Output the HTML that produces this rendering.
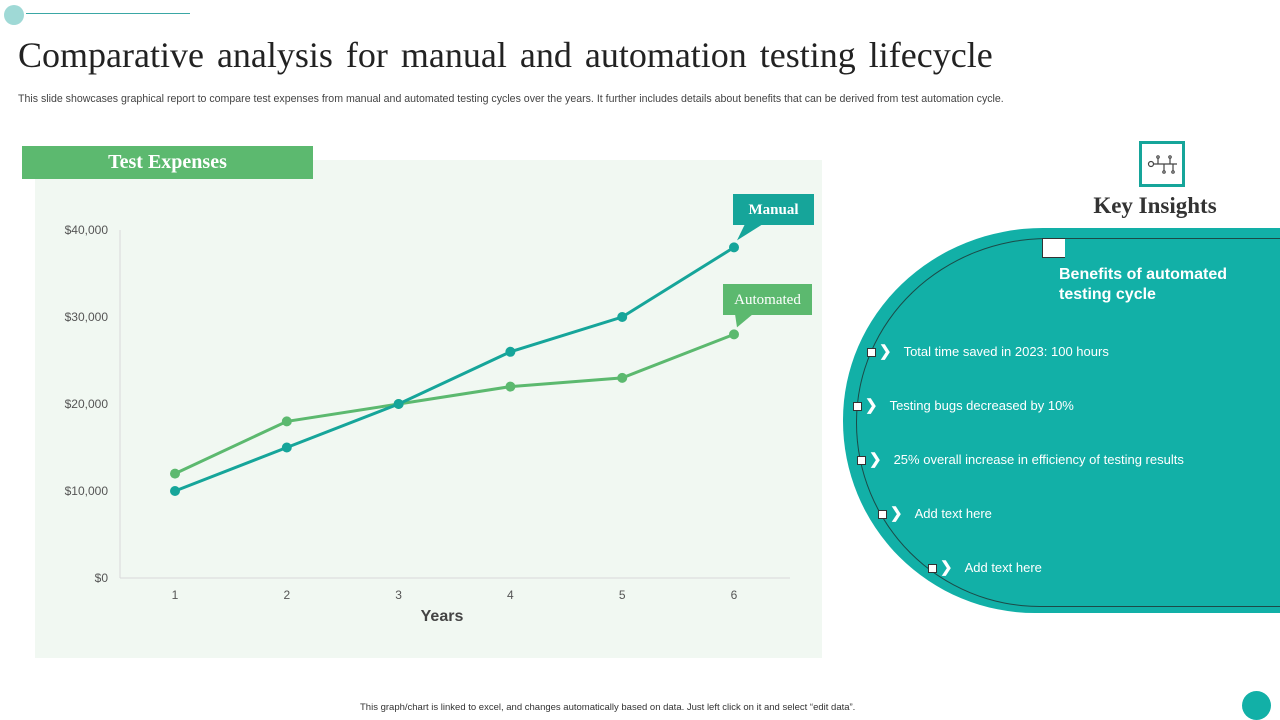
<!DOCTYPE html>
<html><head><meta charset="utf-8"><style>
body{margin:0;width:1280px;height:720px;position:relative;background:#fff;font-family:"Liberation Sans",sans-serif;overflow:hidden}
.abs{position:absolute}
</style></head><body>
<div class="abs" style="left:4px;top:5px;width:20px;height:20px;border-radius:50%;background:#9fd9d6"></div>
<div class="abs" style="left:26px;top:13px;width:164px;height:1px;background:#3aa7a5"></div>
<div class="abs" style="left:18px;top:34px;font-family:'Liberation Serif',serif;font-size:36px;color:#222;word-spacing:4px">Comparative analysis for manual and automation testing lifecycle</div>
<div class="abs" style="left:18px;top:93px;font-size:10.6px;color:#444;white-space:nowrap">This slide showcases graphical report to compare test expenses from manual and automated testing cycles over the years. It further includes details about benefits that can be derived from test automation cycle.</div>

<div class="abs" style="left:35px;top:160px;width:787px;height:498px;background:#f1f8f2"></div>
<div class="abs" style="left:22px;top:146px;width:291px;height:33px;background:#5cb96f;color:#fff;font-family:'Liberation Serif',serif;font-weight:bold;font-size:20px;line-height:33px;text-align:center">Test Expenses</div>

<svg class="abs" style="left:0;top:0" width="1280" height="720" id="chart"></svg>

<div class="abs" style="left:1139px;top:141px;width:40px;height:40px;border:3px solid #16a59a;background:#fff">
<svg width="40" height="40"><g stroke="#444" fill="none" stroke-width="1.2"><circle cx="9" cy="20" r="2.5"/><line x1="11" y1="20" x2="35" y2="20"/><line x1="16" y1="20" x2="16" y2="14"/><line x1="28" y1="20" x2="28" y2="14"/><line x1="22" y1="20" x2="22" y2="27"/><line x1="31" y1="20" x2="31" y2="27"/><circle cx="16" cy="13" r="1.2"/><circle cx="28" cy="13" r="1.2"/><circle cx="22" cy="28" r="1.2"/><circle cx="31" cy="28" r="1.2"/></g></svg></div>
<div class="abs" style="left:1060px;top:193px;width:190px;text-align:center;font-family:'Liberation Serif',serif;font-weight:bold;font-size:23px;color:#333">Key Insights</div>

<div class="abs" style="left:843px;top:228px;width:437px;height:385px;background:#12b0a7;border-radius:200px 0 0 192px/192px 0 0 192px"></div>
<div class="abs" style="left:856px;top:238px;width:440px;height:367px;border:1px solid #1c4a47;border-right:none;border-radius:192px 0 0 184px/184px 0 0 184px"></div>
<div class="abs" style="left:1042px;top:238px;width:22px;height:18px;background:#fff;border:1px solid #333;border-right:none"></div>
<div class="abs" style="left:1059px;top:265px;color:#fff;font-weight:bold;font-size:16px;line-height:20px">Benefits of automated<br>testing cycle</div>

<div id="bullets"></div>

<div class="abs" style="left:360px;top:702px;font-size:9.5px;color:#333">This graph/chart is linked to excel, and changes automatically based on data. Just left click on it and select “edit data”.</div>
<div class="abs" style="left:1242px;top:691px;width:29px;height:29px;border-radius:50%;background:#12b0a7"></div>

<script>
const categories=[1,2,3,4,5,6];
const manualValues=[10000,15000,20000,26000,30000,38000];
const automatedValues=[12000,18000,20000,22000,23000,28000];
const yTicks=[0,10000,20000,30000,40000];
const yTickLabels=["$0","$10,000","$20,000","$30,000","$40,000"];
const bulletTexts=["Total time saved in 2023: 100 hours","Testing bugs decreased by 10%","25% overall increase in efficiency of testing results","Add text here","Add text here"];

const svg=document.getElementById('chart');const NS='http://www.w3.org/2000/svg';
function xs(c){return 175+(c-1)*111.8;}
function ys(v){return 578-v*348/40000;}
function mk(t,a,p){const e=document.createElementNS(NS,t);for(const k in a)e.setAttribute(k,a[k]);(p||svg).appendChild(e);return e;}
let e;
e=mk('line',{x1:120,y1:230,x2:120,y2:578,stroke:'#d9d9d9'});


e=mk('line',{x1:120,y1:578,x2:790,y2:578,stroke:'#d9d9d9'});


yTicks.forEach((v,i)=>{e=mk('text',{x:108,y:ys(v)+4,'text-anchor':'end','font-size':12,fill:'#555'});e.textContent=yTickLabels[i];

});
categories.forEach(c=>{e=mk('text',{x:xs(c),y:599,'text-anchor':'middle','font-size':12,fill:'#555'});e.textContent=c;

});
e=mk('text',{x:442,y:621,'text-anchor':'middle','font-size':16,'font-weight':'bold',fill:'#444'});e.textContent='Years';


function series(vals,color,name){
 const pts=vals.map((v,i)=>xs(categories[i])+','+ys(v)).join(' ');
 e=mk('polyline',{points:pts,fill:'none',stroke:color,'stroke-width':3});
 
 
 vals.forEach((v,i)=>{e=mk('circle',{cx:xs(categories[i]),cy:ys(v),r:5,fill:color});
 
 });
}
series(automatedValues,'#5cb96f','automated');
series(manualValues,'#16a59a','manual');
function callout(label,color,bx,by,w,vals,name){
 const px=xs(categories[5]),py=ys(vals[5]);
 const g=mk('g',{});
 
 
 mk('rect',{x:bx,y:by,width:w,height:31,fill:color},g);
 mk('polygon',{points:`${bx+12},${by+30} ${bx+30},${by+30} ${px+3},${py-7}`,fill:color},g);
 const t=mk('text',{x:bx+w/2,y:by+20,'text-anchor':'middle','font-family':'Liberation Serif,serif','font-size':15,fill:'#fff','font-weight':label==='Manual'?'bold':'normal'},g);t.textContent=label;
}
callout('Manual','#16a59a',733,194,81,manualValues,'manual');
callout('Automated','#5cb96f',723,284,89,automatedValues,'automated');

const bx=[867,853,857,878,928],by=[352,406,460,514,568];
const cont=document.getElementById('bullets');
bulletTexts.forEach((t,i)=>{
 const d=document.createElement('div');d.className='abs';
 
 
 d.style.cssText=`left:${bx[i]}px;top:${by[i]-8}px;color:#fff;font-size:13px;white-space:nowrap;line-height:16px`;
 d.innerHTML=`<span style="display:inline-block;width:7px;height:7px;background:#fff;border:1px solid #333;vertical-align:middle"></span><span style="font-weight:bold;font-size:15px;margin:0 12px 0 3px">❯</span>${t}`;
 cont.appendChild(d);
});
</script>
</body></html>
